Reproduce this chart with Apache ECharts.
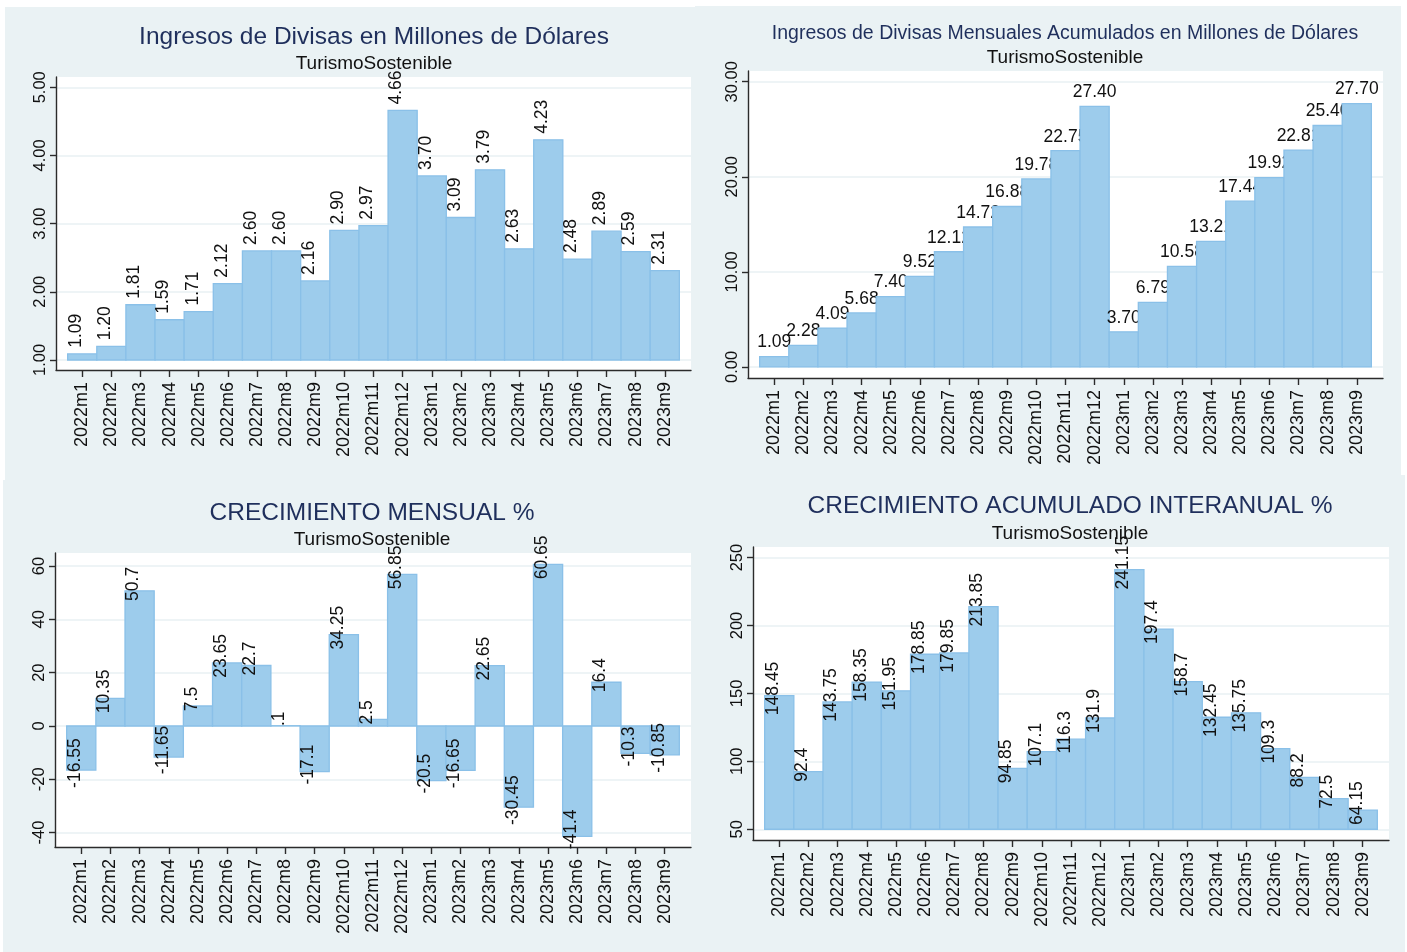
<!DOCTYPE html>
<html>
<head>
<meta charset="utf-8">
<script src="https://cdn.jsdelivr.net/npm/echarts@6/dist/echarts.min.js"></script>
<style>
html,body{margin:0;padding:0;background:#ffffff;}
#chart{width:1407px;height:952px;}
</style>
</head>
<body>
<div id="chart"></div>
<script>
// ---------------- DATA ----------------
const categories = ['2022m1','2022m2','2022m3','2022m4','2022m5','2022m6','2022m7','2022m8','2022m9','2022m10','2022m11','2022m12',
  '2023m1','2023m2','2023m3','2023m4','2023m5','2023m6','2023m7','2023m8','2023m9'];
const ingresos = [1.09,1.20,1.81,1.59,1.71,2.12,2.60,2.60,2.16,2.90,2.97,4.66,3.70,3.09,3.79,2.63,4.23,2.48,2.89,2.59,2.31];
const acumulados = [1.09,2.28,4.09,5.68,7.40,9.52,12.12,14.72,16.88,19.78,22.75,27.40,3.70,6.79,10.58,13.21,17.44,19.92,22.81,25.40,27.70];
const crecMensual = [-16.55,10.35,50.7,-11.65,7.5,23.65,22.7,0.1,-17.1,34.25,2.5,56.85,-20.5,-16.65,22.65,-30.45,60.65,-41.4,16.4,-10.3,-10.85];
const crecAcumulado = [148.45,92.4,143.75,158.35,151.95,178.85,179.85,213.85,94.85,107.1,116.3,131.9,241.15,197.4,158.7,132.45,135.75,109.3,88.2,72.5,64.15];

const ticksIngresos = [1,2,3,4,5];
const ticksAcumulados = [0,10,20,30];
const ticksMensual = [-40,-20,0,20,40,60];
const ticksInteranual = [50,100,150,200,250];

const titles = ['Ingresos de Divisas en Millones de Dólares',
  'Ingresos de Divisas Mensuales Acumulados en Millones de Dólares',
  'CRECIMIENTO MENSUAL %',
  'CRECIMIENTO ACUMULADO INTERANUAL %'];
const subtitle = 'TurismoSostenible';

// ---------------- STYLE ----------------
const FONT = '"Liberation Sans", Arial, Helvetica, sans-serif';
const BG = '#eaf2f4';
const BAR_FILL = 'rgb(157,204,236)';
const BAR_STROKE = 'rgb(138,192,232)';
const AXIS_COLOR = '#2b2b2b';
const GRID_COLOR = '#e8f0f3';
const TITLE_COLOR = '#1f2f5c';
const TEXT_COLOR = '#111111';

const catIdx = categories.map((c, i) => i);
const fix2 = v => v.toFixed(2);
const stataFmt = v => String(v).replace(/^(-?)0\./, '$1.');

const panels = [
  {grid:{left:56, top:77, width:635, height:293}, ymin:0.853, ymax:5.151, ticks:ticksIngresos, yfmt:fix2,
   data:ingresos, base:1, labelMode:'outsideV', lfmt:fix2,
   title:{x:374, y:37, size:24.5}, sub:{x:374, y:64}},
  {grid:{left:748, top:71, width:635, height:307}, ymin:-1.16, ymax:31.13, ticks:ticksAcumulados, yfmt:fix2,
   data:acumulados, base:0, labelMode:'outsideH', lfmt:fix2,
   title:{x:1065, y:34, size:19.5}, sub:{x:1065, y:58}},
  {grid:{left:55, top:553, width:636, height:294}, ymin:-45.4, ymax:64.9, ticks:ticksMensual, yfmt:v=>String(v),
   data:crecMensual, base:0, labelMode:'centerV', lfmt:stataFmt,
   title:{x:372, y:513, size:24.5}, sub:{x:372, y:540}},
  {grid:{left:753, top:547, width:636, height:293}, ymin:42.1, ymax:257.8, ticks:ticksInteranual, yfmt:v=>String(v),
   data:crecAcumulado, base:50, labelMode:'centerV', lfmt:stataFmt,
   title:{x:1070, y:506.5, size:24.5}, sub:{x:1070, y:533.5}}
];

const grids = [], xAxes = [], yAxes = [], series = [], graphics = [];

// white page margins around the panels
graphics.push({type:'rect', shape:{x:0, y:0, width:1407, height:6}, style:{fill:'#fff'}, silent:true});
graphics.push({type:'rect', shape:{x:0, y:0, width:695, height:7}, style:{fill:'#fff'}, silent:true});
graphics.push({type:'rect', shape:{x:0, y:0, width:5, height:480}, style:{fill:'#fff'}, silent:true});
graphics.push({type:'rect', shape:{x:0, y:480, width:3, height:472}, style:{fill:'#fff'}, silent:true});
graphics.push({type:'rect', shape:{x:1401, y:0, width:6, height:475}, style:{fill:'#fff'}, silent:true});
graphics.push({type:'rect', shape:{x:1405, y:475, width:2, height:477}, style:{fill:'#fff'}, silent:true});

panels.forEach((p, k) => {
  grids.push(Object.assign({show:true, backgroundColor:'#ffffff', borderWidth:0}, p.grid));
  xAxes.push({
    gridIndex:k, type:'value', min:-0.9, max:20.9,
    axisLine:{show:true, onZero:false, lineStyle:{color:AXIS_COLOR, width:1.4}},
    axisTick:{show:true, customValues:catIdx, length:7, lineStyle:{color:AXIS_COLOR, width:1.4}},
    axisLabel:{customValues:catIdx, rotate:90, margin:12, fontSize:18, color:TEXT_COLOR, fontFamily:FONT,
      formatter: v => categories[Math.round(v)]},
    splitLine:{show:false}
  });
  yAxes.push({
    gridIndex:k, type:'value', min:p.ymin, max:p.ymax,
    axisLine:{show:true, onZero:false, lineStyle:{color:AXIS_COLOR, width:1.4}},
    axisTick:{show:true, customValues:p.ticks, length:6, lineStyle:{color:AXIS_COLOR, width:1.4}},
    axisLabel:{customValues:p.ticks, rotate:90, margin:7, fontSize:16.5, color:TEXT_COLOR, fontFamily:FONT,
      formatter: p.yfmt},
    splitLine:{show:true, lineStyle:{color:GRID_COLOR, width:1.6}}
  });
  const base = p.base, mode = p.labelMode, lfmt = p.lfmt;
  series.push({
    type:'custom', xAxisIndex:k, yAxisIndex:k,
    data: p.data.map((v, i) => [i, v]),
    clip:false,
    renderItem: function (params, api) {
      const i = api.value(0), v = api.value(1);
      const a = api.coord([i - 0.5, base]);
      const b = api.coord([i + 0.5, v]);
      const cx = (a[0] + b[0]) / 2;
      const children = [{
        type:'rect',
        shape:{x:a[0], y:Math.min(a[1], b[1]), width:b[0] - a[0], height:Math.abs(a[1] - b[1])},
        style:{fill:BAR_FILL, stroke:BAR_STROKE, lineWidth:1.3}
      }];
      const txt = lfmt(v);
      const ts = {text:txt, fontSize:17.5, fontFamily:FONT, fill:TEXT_COLOR};
      if (mode === 'outsideV') {
        children.push({type:'text', x:cx - 6, y:b[1] - 6, rotation:Math.PI / 2,
          style:Object.assign({align:'left', verticalAlign:'middle'}, ts)});
      } else if (mode === 'outsideH') {
        children.push({type:'text', x:cx, y:b[1] - 5,
          style:Object.assign({align:'center', verticalAlign:'bottom'}, ts)});
      } else {
        children.push({type:'text', x:cx - 6, y:b[1] - 7, rotation:Math.PI / 2,
          style:Object.assign({align:'center', verticalAlign:'middle'}, ts)});
      }
      return {type:'group', children:children};
    }
  });
  graphics.push({type:'text', x:p.title.x, y:p.title.y, silent:true,
    style:{text:titles[k], fontSize:p.title.size, fontFamily:FONT, fill:TITLE_COLOR, align:'center', verticalAlign:'middle'}});
  graphics.push({type:'text', x:p.sub.x, y:p.sub.y, silent:true,
    style:{text:subtitle, fontSize:19, fontFamily:FONT, fill:TEXT_COLOR, align:'center', verticalAlign:'middle'}});
});

const chart = echarts.init(document.getElementById('chart'), null, {renderer:'canvas'});
chart.setOption({
  backgroundColor: BG,
  animation:false,
  grid: grids,
  xAxis: xAxes,
  yAxis: yAxes,
  series: series,
  graphic: graphics
});
</script>
</body>
</html>
